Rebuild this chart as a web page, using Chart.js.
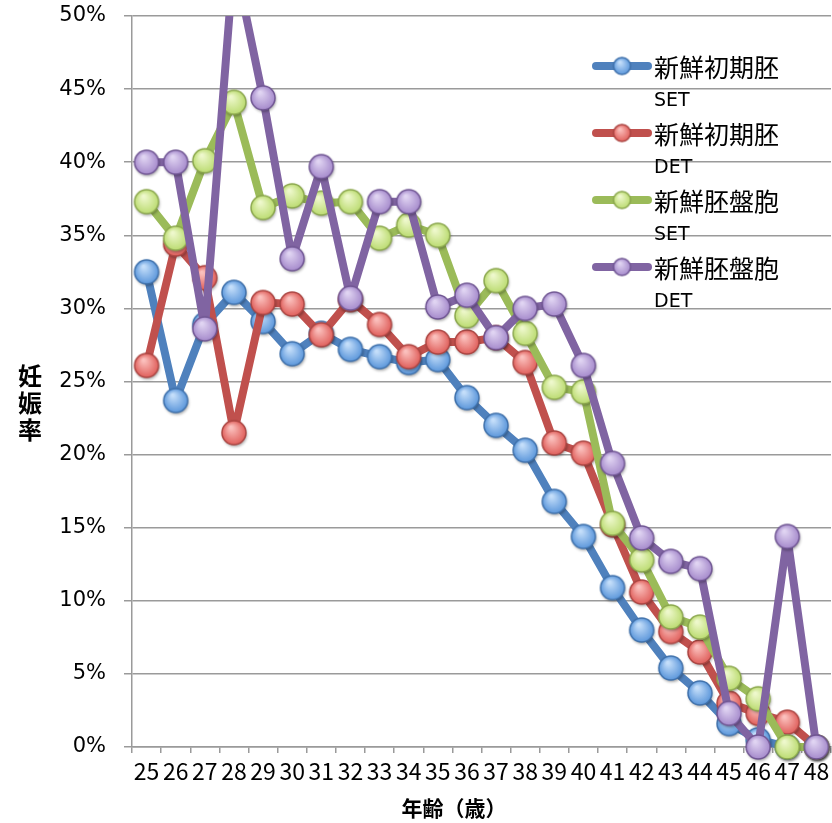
<!DOCTYPE html>
<html>
<head>
<meta charset="utf-8">
<script src="https://cdn.jsdelivr.net/npm/chart.js@4"></script>
<style>
body{margin:0;background:#fff}
#wrap{width:832px;height:823px;position:relative}
</style>
</head>
<body>
<div id="wrap"><canvas id="myChart" width="832" height="823"></canvas></div>
<script>
let ages = ['25','26','27','28','29','30','31','32','33','34','35','36','37','38','39','40','41','42','43','44','45','46','47','48'];
let cleavageSET = [32.5,23.7,28.9,31.1,29.1,26.9,28.3,27.2,26.7,26.3,26.5,23.9,22.0,20.3,16.8,14.4,10.9,8.0,5.4,3.7,1.6,0.5,0,0];
let cleavageDET = [26.1,34.4,32.1,21.5,30.4,30.3,28.2,30.6,28.9,26.7,27.7,27.7,28.0,26.3,20.8,20.1,15.2,10.6,7.9,6.5,3.0,2.3,1.7,0];
let blastSET = [37.3,34.8,40.1,44.1,36.9,37.7,37.2,37.3,34.8,35.7,35.0,29.5,31.9,28.3,24.6,24.3,15.3,12.8,8.9,8.2,4.7,3.3,0,0];
let blastDET = [40.0,40.0,28.6,54.0,44.4,33.4,39.7,30.7,37.3,37.3,30.1,30.9,28.0,30.0,30.3,26.1,19.4,14.3,12.7,12.2,2.3,0,14.4,0];
let seriesNames = ['新鮮初期胚','新鮮初期胚','新鮮胚盤胞','新鮮胚盤胞'];
let seriesSub = ['SET','DET','SET','DET'];
let yTicks = [0,5,10,15,20,25,30,35,40,45,50];
let yTitle = ['妊','娠','率'];
let xTitle = '年齢（歳）';

let cjk = '"Noto Sans CJK JP", "Noto Sans", sans-serif';
let latin = '"DejaVu Sans", "Liberation Sans", sans-serif';

// line colour, light centre, marker colour, marker edge
let palette = [
    ['#4f81bd','#c4defa','#5c97db','#3f70aa'],
    ['#c0504d','#fbc0bd','#e0605c','#aa4542'],
    ['#9bbb59','#eef8cc','#bcdc72','#8aa64d'],
    ['#8064a2','#e0d4f2','#a68bcc','#6f5592']
];

function makeMarker(r, col, shadow) {
    let size = Math.ceil(2*r + 12);
    let cv = document.createElement('canvas');
    cv.width = size; cv.height = size;
    let c = cv.getContext('2d');
    let cx = size/2, cy = size/2;
    if (shadow) {
        c.shadowColor = 'rgba(0,0,0,0.35)';
        c.shadowBlur = 3;
        c.shadowOffsetX = 1;
        c.shadowOffsetY = 2;
    }
    let g = c.createRadialGradient(cx - r*0.25, cy - r*0.45, r*0.1, cx, cy, r);
    g.addColorStop(0, col[1]);
    g.addColorStop(1, col[2]);
    c.fillStyle = g;
    c.beginPath();
    c.arc(cx, cy, r, 0, Math.PI*2);
    c.fill();
    c.shadowColor = 'transparent';
    c.lineWidth = 1.5;
    c.strokeStyle = col[3];
    c.stroke();
    return cv;
}

let bigMarkers = palette.map(p => makeMarker(12, p, true));
let smallMarkers = palette.map(p => makeMarker(8.5, p, false));

function series(i, values, order) {
    return {
        label: seriesNames[i] + ' ' + seriesSub[i],
        data: values,
        borderColor: palette[i][0],
        backgroundColor: palette[i][0],
        borderWidth: 8,
        borderJoinStyle: 'round',
        borderCapStyle: 'round',
        pointStyle: bigMarkers[i],
        pointRadius: 12,
        pointHoverRadius: 12,
        tension: 0,
        order: order,
        clip: {left: 20, top: 0, right: 20, bottom: 20}
    };
}

// legend and axis titles drawn by hand, Excel style
let extras = {
    id: 'extras',
    afterDraw(chart) {
        let c = chart.ctx;
        c.save();
        for (let i = 0; i < 4; i++) {
            let y = 66 + i*67;
            c.strokeStyle = palette[i][0];
            c.lineWidth = 8;
            c.lineCap = 'round';
            c.beginPath();
            c.moveTo(596, y);
            c.lineTo(648, y);
            c.stroke();
            let m = smallMarkers[i];
            c.drawImage(m, 622 - m.width/2, y - m.height/2);
            c.fillStyle = '#000';
            c.textBaseline = 'middle';
            c.textAlign = 'left';
            c.font = '25px ' + cjk;
            c.fillText(seriesNames[i], 654, y + 1);
            c.font = '19px ' + latin;
            c.fillText(seriesSub[i], 654, y + 35);
        }
        c.font = 'bold 24px ' + cjk;
        c.textAlign = 'center';
        c.textBaseline = 'middle';
        yTitle.forEach((ch, k) => c.fillText(ch, 30, 376 + k*27));
        c.font = 'bold 21px ' + cjk;
        c.fillText(xTitle, 454, 808);
        c.restore();
    }
};

var ctx = document.getElementById('myChart').getContext('2d');
var myChart = new Chart(ctx, {
    type: 'line',
    data: {
        labels: ages,
        datasets: [
            series(0, cleavageSET, 3),
            series(1, cleavageDET, 2),
            series(2, blastSET, 1),
            series(3, blastDET, 0)
        ]
    },
    options: {
        responsive: false,
        animation: false,
        layout: {autoPadding: false, padding: {top: 16, right: 1, left: 0, bottom: 0}},
        plugins: {legend: {display: false}, tooltip: {enabled: false}},
        scales: {
            x: {
                offset: true,
                grid: {drawOnChartArea: false, offset: true, tickLength: 6, color: '#9a9a9a', lineWidth: 1.5},
                border: {display: true, color: '#9a9a9a', width: 1.5},
                ticks: {autoSkip: false, maxRotation: 0, minRotation: 0, color: '#000', padding: 4,
                    font: {family: cjk, size: 23}},
                afterFit: s => { s.height = 76; s.paddingLeft = 0; s.paddingRight = 0; }
            },
            y: {
                min: 0,
                max: 50,
                afterBuildTicks: s => { s.ticks = yTicks.map(v => ({value: v})); },
                grid: {color: '#9a9a9a', lineWidth: 1.5, tickLength: 8},
                border: {display: true, color: '#9a9a9a', width: 1.5},
                ticks: {color: '#000', padding: 18, font: {family: latin, size: 21},
                    callback: v => v + '%'},
                afterFit: s => { s.width = 132; s.paddingTop = 0; s.paddingBottom = 0; }
            }
        }
    },
    plugins: [extras]
});
</script>
</body>
</html>
